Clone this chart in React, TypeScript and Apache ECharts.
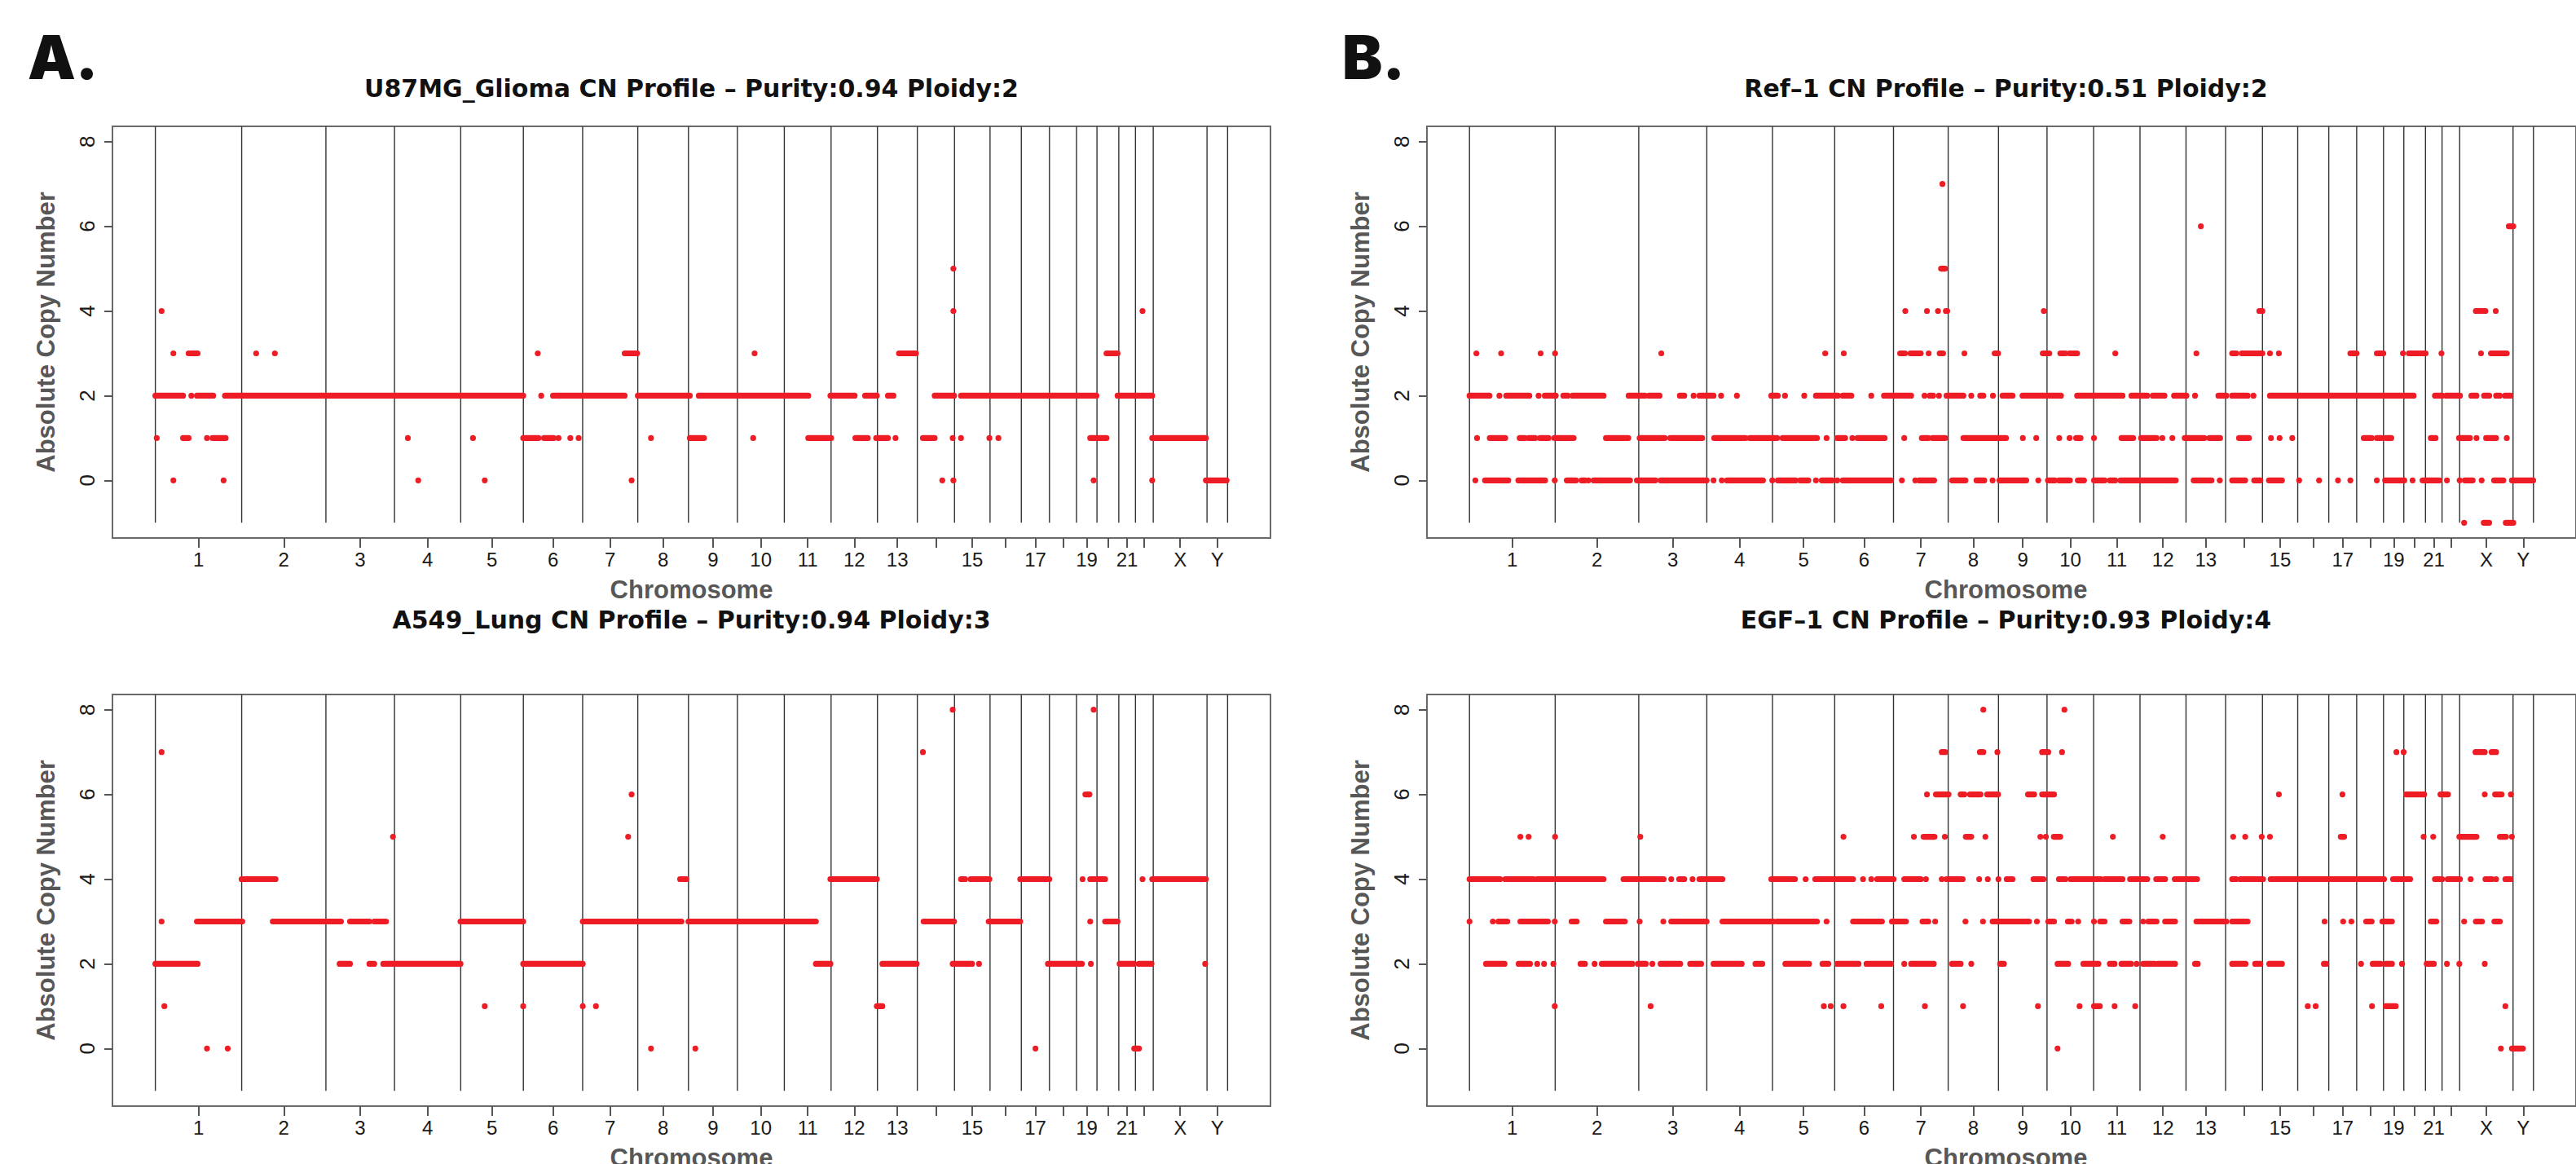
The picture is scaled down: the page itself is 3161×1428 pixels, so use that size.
import React, { useEffect, useRef } from "react";
import * as echarts from "echarts";

// ---------- data ----------
const CHROM_NAMES = ["1","2","3","4","5","6","7","8","9","10","11","12","13","14","15","16","17","18","19","20","21","22","X","Y"];
const CHROM_LENGTHS_MB = [249.25,243.2,198.02,191.15,180.92,171.12,159.14,146.36,141.21,135.53,135.01,133.85,115.17,107.35,102.53,90.35,81.2,78.08,59.13,63.03,48.13,51.3,155.27,59.37];
const LABELED_CHROMS = ["1","2","3","4","5","6","7","8","9","10","11","12","13","15","17","19","21","X","Y"];
const Y_TICKS = [0, 2, 4, 6, 8];
const Y_DATA_RANGE = [-1, 8];

const TITLES = [
  "U87MG_Glioma CN Profile \u2013 Purity:0.94 Ploidy:2",
  "Ref\u20131 CN Profile \u2013 Purity:0.51 Ploidy:2",
  "A549_Lung CN Profile \u2013 Purity:0.94 Ploidy:3",
  "EGF\u20131 CN Profile \u2013 Purity:0.93 Ploidy:4",
];

// segments: [startMb, endMb, copyNumber] in genome-wide coordinates
const U87MG_SEGMENTS = [
  [18,18,4],[2304,2304,4],[2850,2850,4],
  [2304,2304,5],
  [52,52,3],[96,122,3],[291,291,3],[345,345,3],[1104,1104,3],[1355,1391,3],[1730,1730,3],[2147,2196,3],[2746,2778,3],
  [0,80,2],[104,104,2],[120,167,2],[201,1062,2],[1114,1114,2],[1148,1355,2],[1393,1543,2],[1569,1885,2],[1949,2019,2],[2049,2083,2],[2115,2131,2],[2250,2306,2],[2326,2717,2],[2778,2878,2],
  [4,4,1],[80,96,1],[149,149,1],[165,203,1],[729,729,1],[917,917,1],[1062,1106,1],[1122,1150,1],[1164,1164,1],[1198,1198,1],[1222,1222,1],[1431,1431,1],[1543,1584,1],[1726,1726,1],[1885,1951,1],[2021,2057,1],[2081,2115,1],[2137,2137,1],[2216,2250,1],[2302,2302,1],[2326,2326,1],[2408,2408,1],[2434,2434,1],[2699,2746,1],[2878,3033,1],
  [52,52,0],[197,197,0],[759,759,0],[951,951,0],[1375,1375,0],[2272,2272,0],[2304,2304,0],[2709,2709,0],[2878,2878,0],[3033,3093,0],
];

const REF1_SEGMENTS = [
  [1376,1376,7],
  [2128,2128,6],[3024,3037,6],
  [1372,1384,5],
  [1268,1268,4],[1331,1331,4],[1363,1363,4],[1386,1390,4],[1671,1671,4],[2298,2307,4],[2928,2956,4],[2986,2986,4],
  [20,20,3],[92,92,3],[207,207,3],[249,249,3],[558,558,3],[1035,1035,3],[1089,1089,3],[1253,1267,3],[1283,1313,3],[1336,1336,3],[1368,1378,3],[1440,1440,3],[1528,1538,3],[1668,1687,3],[1719,1734,3],[1746,1768,3],[1879,1879,3],[2115,2115,3],[2219,2231,3],[2247,2307,3],[2329,2329,3],[2355,2355,3],[2563,2581,3],[2640,2659,3],[2716,2716,3],[2733,2782,3],[2828,2828,3],[2943,2943,3],[2972,3018,3],
  [0,58,2],[87,87,2],[107,174,2],[201,201,2],[219,251,2],[273,286,2],[300,390,2],[463,510,2],[522,553,2],[612,625,2],[652,652,2],[669,710,2],[732,732,2],[778,778,2],[878,897,2],[918,918,2],[974,974,2],[1008,1072,2],[1086,1111,2],[1169,1169,2],[1206,1285,2],[1324,1324,2],[1339,1349,2],[1366,1366,2],[1388,1437,2],[1460,1460,2],[1486,1495,2],[1523,1523,2],[1551,1580,2],[1609,1721,2],[1768,1900,2],[1926,1972,2],[1988,2022,2],[2050,2086,2],[2111,2111,2],[2179,2202,2],[2219,2264,2],[2281,2281,2],[2329,2747,2],[2809,2830,2],[2842,2882,2],[2915,2930,2],[2952,2967,2],[2987,2998,2],[3013,3029,2],
  [22,22,1],[59,104,1],[146,161,1],[172,191,1],[205,230,1],[247,303,1],[397,462,1],[495,568,1],[584,677,1],[712,803,1],[815,895,1],[911,1011,1],[1039,1039,1],[1070,1093,1],[1114,1114,1],[1129,1208,1],[1265,1265,1],[1316,1335,1],[1347,1384,1],[1437,1561,1],[1610,1610,1],[1649,1649,1],[1716,1716,1],[1746,1746,1],[1765,1778,1],[1817,1817,1],[1897,1931,1],[1954,1999,1],[2016,2016,1],[2045,2045,1],[2081,2138,1],[2153,2184,1],[2239,2268,1],[2332,2332,1],[2357,2357,1],[2394,2394,1],[2602,2625,1],[2640,2654,1],[2666,2682,1],[2797,2811,1],[2879,2911,1],[2930,2930,1],[2958,2987,1],[3018,3018,1],
  [17,17,0],[45,113,0],[142,220,0],[248,248,0],[283,310,0],[326,336,0],[346,346,0],[361,467,0],[487,541,0],[556,690,0],[710,710,0],[734,734,0],[749,854,0],[881,881,0],[897,949,0],[962,986,0],[1008,1008,0],[1025,1055,0],[1070,1070,0],[1086,1226,0],[1258,1258,0],[1297,1297,0],[1308,1352,0],[1404,1443,0],[1475,1498,0],[1522,1522,0],[1542,1620,0],[1655,1655,0],[1683,1703,0],[1715,1747,0],[1770,1788,0],[1817,1848,0],[1863,1879,0],[1894,2055,0],[2107,2159,0],[2183,2183,0],[2219,2257,0],[2283,2301,0],[2326,2364,0],[2414,2414,0],[2472,2472,0],[2527,2527,0],[2563,2563,0],[2640,2640,0],[2664,2720,0],[2744,2744,0],[2773,2822,0],[2844,2844,0],[2881,2881,0],[2896,2919,0],[2945,2945,0],[2981,3008,0],[3033,3095,0],
  [2894,2894,-1],[2951,2967,-1],[3015,3037,-1],
];

const A549_SEGMENTS = [
  [2302,2302,8],[2709,2709,8],
  [18,18,7],[2216,2216,7],
  [1375,1375,6],[2685,2697,6],
  [686,686,5],[1365,1365,5],
  [249,347,4],[1515,1533,4],[1949,2083,4],[2326,2338,4],[2354,2408,4],[2497,2581,4],[2677,2677,4],[2699,2742,4],[2850,2850,4],[2878,3033,4],
  [18,18,3],[120,251,3],[339,536,3],[562,618,3],[632,666,3],[881,1062,3],[1234,1519,3],[1539,1907,3],[2218,2306,3],[2406,2497,3],[2699,2699,3],[2742,2778,3],
  [0,122,2],[532,562,2],[618,632,2],[658,881,2],[1062,1234,2],[1907,1949,2],[2099,2198,2],[2302,2358,2],[2378,2378,2],[2577,2675,2],[2701,2701,2],[2784,2826,2],[2840,2876,2],[3031,3031,2],
  [26,26,1],[951,951,1],[1062,1062,1],[1234,1234,1],[1272,1272,1],[2083,2099,1],
  [149,149,0],[209,209,0],[1431,1431,0],[1559,1559,0],[2541,2541,0],[2826,2840,0],
];

const EGF1_SEGMENTS = [
  [1495,1495,8],[1731,1731,8],
  [1374,1384,7],[1485,1495,7],[1536,1536,7],[1666,1684,7],[1724,1724,7],[2697,2697,7],[2718,2718,7],[2927,2954,7],[2974,2987,7],
  [1331,1331,6],[1357,1394,6],[1429,1440,6],[1456,1487,6],[1506,1538,6],[1625,1643,6],[1666,1701,6],[2355,2355,6],[2540,2540,6],[2725,2778,6],[2825,2847,6],[2954,2954,6],[2984,3003,6],[3030,3030,6],
  [148,148,5],[172,172,5],[249,249,5],[497,497,5],[1088,1088,5],[1293,1293,5],[1321,1353,5],[1383,1383,5],[1444,1460,5],[1501,1501,5],[1661,1661,5],[1677,1677,5],[1700,1719,5],[1872,1872,5],[2017,2017,5],[2222,2222,5],[2257,2257,5],[2305,2305,5],[2329,2329,5],[2535,2545,5],[2776,2776,5],[2804,2804,5],[2880,2930,5],[2998,3016,5],[3033,3033,5],
  [0,89,4],[104,187,4],[197,390,4],[448,565,4],[587,587,4],[610,625,4],[649,649,4],[669,736,4],[878,947,4],[978,978,4],[1006,1116,4],[1145,1145,4],[1169,1169,4],[1186,1234,4],[1265,1313,4],[1328,1328,4],[1374,1374,4],[1388,1435,4],[1483,1483,4],[1508,1508,4],[1539,1539,4],[1563,1580,4],[1641,1670,4],[1715,1734,4],[1749,1837,4],[1848,1900,4],[1922,1972,4],[1998,2024,4],[2052,2117,4],[2219,2231,4],[2243,2309,4],[2331,2661,4],[2687,2737,4],[2809,2830,4],[2846,2882,4],[2913,2913,4],[2956,2975,4],[2987,2987,4],[3014,3029,4],
  [0,0,3],[68,68,3],[84,110,3],[148,228,3],[248,248,3],[297,312,3],[397,452,3],[495,495,3],[564,564,3],[587,690,3],[736,885,3],[895,1011,3],[1039,1039,3],[1116,1200,3],[1229,1270,3],[1318,1335,3],[1355,1355,3],[1443,1443,3],[1494,1494,3],[1522,1628,3],[1651,1651,3],[1684,1701,3],[1741,1752,3],[1771,1771,3],[1817,1817,3],[1835,1848,3],[1900,1920,3],[1960,1960,3],[1975,1999,3],[2024,2053,3],[2115,2202,3],[2219,2264,3],[2488,2488,3],[2542,2542,3],[2566,2566,3],[2609,2625,3],[2656,2684,3],[2797,2813,3],[2894,2894,3],[2928,2946,3],[2982,2998,3],
  [48,102,2],[143,176,2],[197,197,2],[217,217,2],[244,244,2],[323,336,2],[364,364,2],[385,474,2],[490,513,2],[532,532,2],[556,613,2],[642,674,2],[710,792,2],[832,852,2],[919,988,2],[1027,1044,2],[1070,1132,2],[1155,1226,2],[1265,1265,2],[1285,1351,2],[1404,1429,2],[1460,1460,2],[1544,1555,2],[1711,1742,2],[1786,1830,2],[1863,1877,2],[1897,1925,2],[1941,1941,2],[1960,1993,2],[2003,2053,2],[2111,2119,2],[2219,2258,2],[2286,2301,2],[2327,2364,2],[2486,2493,2],[2594,2594,2],[2628,2651,2],[2666,2684,2],[2713,2713,2],[2785,2806,2],[2844,2844,2],[2880,2880,2],[2954,2954,2],
  [248,248,1],[527,527,1],[1031,1031,1],[1051,1051,1],[1088,1088,1],[1198,1198,1],[1325,1325,1],[1436,1436,1],[1654,1654,1],[1775,1775,1],[1817,1834,1],[1877,1877,1],[1937,1937,1],[2439,2439,1],[2462,2462,1],[2626,2626,1],[2666,2695,1],[3014,3014,1],
  [1711,1711,0],[3001,3001,0],[3033,3065,0],
];

// ---------- derived scales ----------
const CHROM_STARTS: number[] = [];
{
  let acc = 0;
  for (const len of CHROM_LENGTHS_MB) { CHROM_STARTS.push(acc); acc += len; }
}
const GENOME_TOTAL = CHROM_LENGTHS_MB.reduce((a, b) => a + b, 0);
const CHROM_MIDS = CHROM_STARTS.map((s, i) => s + CHROM_LENGTHS_MB[i] / 2);
const CHROM_BOUNDS = [0, ...CHROM_STARTS.slice(1), GENOME_TOTAL];
const LABELED_MIDS = LABELED_CHROMS.map((n) => CHROM_MIDS[CHROM_NAMES.indexOf(n)]);
const PAD_X = GENOME_TOTAL * 0.04;
const X_MIN = -PAD_X;
const X_MAX = GENOME_TOTAL + PAD_X;
const PAD_Y = (Y_DATA_RANGE[1] - Y_DATA_RANGE[0]) * 0.04;
const Y_MIN = Y_DATA_RANGE[0] - PAD_Y;
const Y_MAX = Y_DATA_RANGE[1] + PAD_Y;

// ---------- layout / style ----------
const W = 3161;
const H = 1428;
const GRID_W = 1421;
const GRID_H = 505;
const COL_LEFT = [138, 1751];
const ROW_TOP = [155, 852];
const RED = "#EE1D25";
const DOT_R = 3.6;

const PANELS = [
  { title: TITLES[0], data: U87MG_SEGMENTS, col: 0, row: 0, letter: "A." },
  { title: TITLES[1], data: REF1_SEGMENTS, col: 1, row: 0, letter: "B." },
  { title: TITLES[2], data: A549_SEGMENTS, col: 0, row: 1, letter: "" },
  { title: TITLES[3], data: EGF1_SEGMENTS, col: 1, row: 1, letter: "" },
];

function txt(x: number, y: number, text: string, font: any, rotation = 0, align = "center") {
  return {
    type: "text",
    x,
    y,
    rotation,
    silent: true,
    style: {
      text,
      fill: font.color,
      fontFamily: font.family,
      fontSize: font.size,
      fontWeight: font.weight,
      align,
      verticalAlign: "middle",
      textAlign: align,
      textVerticalAlign: "middle",
    },
  };
}

function buildOption() {
  const grid: any[] = [];
  const xAxis: any[] = [];
  const yAxis: any[] = [];
  const series: any[] = [];
  const graphic: any[] = [];

  PANELS.forEach((p, i) => {
    const left = COL_LEFT[p.col];
    const top = ROW_TOP[p.row];
    const cx = left + GRID_W / 2;
    grid.push({
      left, top, width: GRID_W, height: GRID_H,
      show: true, borderColor: "#6a6a6a", borderWidth: 2, backgroundColor: "transparent",
    });
    xAxis.push({
      type: "value", gridIndex: i, min: X_MIN, max: X_MAX, position: "bottom",
      splitLine: { show: false },
      axisLine: { show: false, onZero: false },
      axisTick: { show: true, customValues: CHROM_MIDS, length: 12, lineStyle: { color: "#555", width: 2 } },
      axisLabel: {
        show: true, customValues: LABELED_MIDS, margin: 14,
        fontFamily: "Liberation Sans", fontSize: 24, color: "#1a1a1a",
        formatter: (v: number) => {
          const k = CHROM_MIDS.findIndex((m) => Math.abs(m - v) < 0.5);
          return k >= 0 ? CHROM_NAMES[k] : "";
        },
      },
    });
    yAxis.push({
      type: "value", gridIndex: i, min: Y_MIN, max: Y_MAX, position: "left",
      splitLine: { show: false },
      axisLine: { show: false, onZero: false },
      axisTick: { show: true, customValues: Y_TICKS, length: 10, lineStyle: { color: "#555", width: 2 } },
      axisLabel: {
        show: true, customValues: Y_TICKS, rotate: 90, margin: 18,
        fontFamily: "Liberation Sans", fontSize: 26, color: "#1a1a1a",
      },
    });
    series.push({
      type: "custom", xAxisIndex: i, yAxisIndex: i, silent: true, z: 1,
      data: CHROM_BOUNDS.map((b) => [b, Y_DATA_RANGE[0]]),
      encode: { x: 0, y: 1 },
      renderItem: (_params: any, api: any) => {
        const b = api.value(0);
        const a = api.coord([b, Y_DATA_RANGE[0]]);
        const c = api.coord([b, Y_MAX]);
        return {
          type: "line",
          shape: { x1: a[0], y1: a[1], x2: c[0], y2: c[1] },
          style: { stroke: "#333333", lineWidth: 1.4 },
        };
      },
    });
    series.push({
      type: "custom", xAxisIndex: i, yAxisIndex: i, silent: true, z: 3,
      data: p.data,
      encode: { x: [0, 1], y: 2 },
      renderItem: (_params: any, api: any) => {
        const cn = api.value(2);
        const s = api.coord([api.value(0), cn]);
        const e = api.coord([api.value(1), cn]);
        return {
          type: "rect",
          shape: { x: s[0] - DOT_R, y: s[1] - DOT_R, width: e[0] - s[0] + 2 * DOT_R, height: 2 * DOT_R, r: DOT_R },
          style: { fill: RED },
        };
      },
    });

    const titleY = p.row === 0 ? 108 : 760;
    graphic.push(txt(cx, titleY, p.title, { family: "DejaVu Sans", size: 30, weight: "bold", color: "#111" }));
    graphic.push(txt(left - 82, top + GRID_H / 2, "Absolute Copy Number", { family: "Liberation Sans", size: 31, weight: "bold", color: "#575757" }, Math.PI / 2));
    graphic.push(txt(cx, top + GRID_H + 63, "Chromosome", { family: "Liberation Sans", size: 31, weight: "bold", color: "#575757" }));
    if (p.letter) {
      graphic.push(txt(left - 104, 70, p.letter, { family: "Inter", size: 74, weight: 900, color: "#111" }, 0, "left"));
    }
  });

  return { animation: false, backgroundColor: "#ffffff", grid, xAxis, yAxis, series, graphic };
}

export default function App() {
  const ref = useRef<HTMLDivElement>(null);
  useEffect(() => {
    document.body.style.margin = "0";
    if (!ref.current) return;
    const chart = echarts.init(ref.current, undefined, { renderer: "svg", width: W, height: H });
    chart.setOption(buildOption() as any);
    return () => chart.dispose();
  }, []);
  return <div ref={ref} style={{ position: "absolute", left: 0, top: 0, width: W, height: H, background: "#fff" }} />;
}
